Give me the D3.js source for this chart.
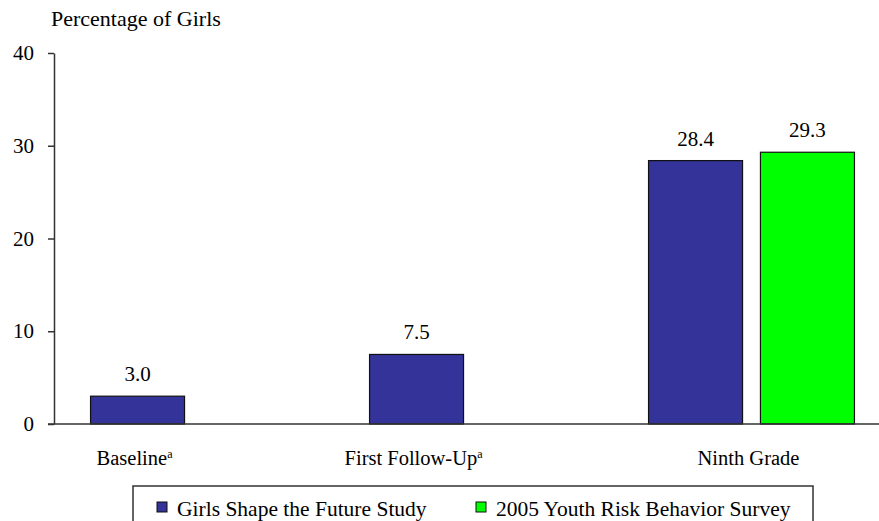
<!DOCTYPE html>
<html>
<head>
<meta charset="utf-8">
<script src="https://cdn.jsdelivr.net/npm/d3@7"></script>
<style>
  body { margin: 0; background: #fff; }
</style>
</head>
<body>
<div id="vis-container"></div>
<script>
// data
var categories = ["Baseline", "First Follow-Up", "Ninth Grade"];
var footnotes = ["a", "a", ""];
var seriesNames = ["Girls Shape the Future Study", "2005 Youth Risk Behavior Survey"];
var gsfValues = [3.0, 7.5, 28.4];
var yrbsValues = [null, null, 29.3];
var yTicks = [0, 10, 20, 30, 40];
var colors = ["#333399", "#00ff00"];

var w = 879;
var h = 521;
var serif = "'Liberation Serif', 'Times New Roman', serif";

var svg = d3.select("#vis-container")
    .append("svg")
    .attr("width", w)
    .attr("height", h)
    .attr("font-family", serif);

// scales
var xScale = d3.scaleBand()
    .domain(categories)
    .range([54, 891])
    .paddingInner(0.262)
    .paddingOuter(0.131);

var xInner = d3.scaleBand()
    .domain(seriesNames)
    .range([0, xScale.bandwidth()])
    .paddingInner(0.16);

var yScale = d3.scaleLinear()
    .domain([0, 40])
    .range([424, 53]);

var color = d3.scaleOrdinal().domain(seriesNames).range(colors);

// title
svg.append("text")
    .attr("x", 51)
    .attr("y", 26)
    .style("font-size", "22px")
    .text("Percentage of Girls");

// y axis
var yAxis = d3.axisLeft(yScale)
    .tickValues(yTicks)
    .tickSize(6)
    .tickSizeOuter(0)
    .tickPadding(14);

var yg = svg.append("g")
    .attr("transform", "translate(54,0)")
    .call(yAxis);
yg.select(".domain").attr("stroke", "#333").attr("stroke-width", 1.5);
yg.selectAll(".tick line").attr("stroke", "#333").attr("stroke-width", 1.5);
yg.selectAll(".tick text")
    .style("font-size", "21px")
    .attr("fill", "#000");

// bars
var rows = categories.map(function (c, i) {
    return { cat: c, values: [gsfValues[i], yrbsValues[i]] };
});

var groups = svg.selectAll(".group")
    .data(rows)
    .enter().append("g")
    .attr("class", "group")
    .attr("transform", function (d) { return "translate(" + xScale(d.cat) + ",0)"; });

var bars = groups.selectAll(".bar")
    .data(function (d) {
        return seriesNames.map(function (s, j) { return { series: s, value: d.values[j] }; })
            .filter(function (e) { return e.value != null; });
    })
    .enter();

bars.append("rect")
    .attr("class", "bar")
    .attr("x", function (d) { return xInner(d.series); })
    .attr("y", function (d) { return yScale(d.value); })
    .attr("width", xInner.bandwidth())
    .attr("height", function (d) { return yScale(0) - yScale(d.value); })
    .attr("fill", function (d) { return color(d.series); })
    .attr("stroke", "#111")
    .attr("stroke-width", 1.2);

bars.append("text")
    .attr("x", function (d) { return xInner(d.series) + xInner.bandwidth() / 2; })
    .attr("y", function (d) { return yScale(d.value) - 15; })
    .attr("text-anchor", "middle")
    .style("font-size", "21px")
    .text(function (d) { return d.value.toFixed(1); });

// x axis line
svg.append("line")
    .attr("x1", 48)
    .attr("x2", w)
    .attr("y1", yScale(0))
    .attr("y2", yScale(0))
    .attr("stroke", "#333")
    .attr("stroke-width", 1.5);

// category labels, centred under the bars that are present
var catLabels = svg.selectAll(".cat")
    .data(rows)
    .enter().append("text")
    .attr("class", "cat")
    .attr("x", function (d) {
        var present = seriesNames.filter(function (s, j) { return d.values[j] != null; });
        var first = xInner(present[0]);
        var last = xInner(present[present.length - 1]) + xInner.bandwidth();
        return xScale(d.cat) + (first + last) / 2 - 3;
    })
    .attr("y", 465)
    .attr("text-anchor", "middle")
    .style("font-size", "20.5px");

catLabels.append("tspan").text(function (d) { return d.cat; });
catLabels.append("tspan")
    .attr("dy", -7)
    .style("font-size", "12px")
    .text(function (d, i) { return footnotes[i]; });

// legend
svg.append("rect")
    .attr("x", 133)
    .attr("y", 486)
    .attr("width", 680)
    .attr("height", 60)
    .attr("fill", "none")
    .attr("stroke", "#333")
    .attr("stroke-width", 1.5);

var legendX = [157, 476];
var legend = svg.selectAll(".legend")
    .data(seriesNames)
    .enter().append("g")
    .attr("class", "legend")
    .attr("transform", function (d, i) { return "translate(" + legendX[i] + ",502)"; });

legend.append("rect")
    .attr("width", 10)
    .attr("height", 10)
    .attr("fill", color)
    .attr("stroke", "#111")
    .attr("stroke-width", 1);

legend.append("text")
    .attr("x", 20)
    .attr("y", 14)
    .style("font-size", "21.5px")
    .text(function (d) { return d; });

// same serif face everywhere, including the axis ticks
svg.selectAll("text").style("font-family", serif).attr("fill", "#000");
</script>
</body>
</html>
